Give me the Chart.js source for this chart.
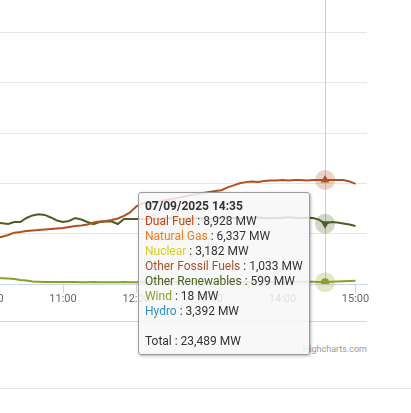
<!DOCTYPE html>
<html>
<head>
<meta charset="utf-8">
<script src="https://cdn.jsdelivr.net/npm/chart.js@4.4.0/dist/chart.umd.min.js"></script>
<style>
  html, body { margin: 0; padding: 0; background: #fff; }
  body { position: relative; width: 411px; height: 413px; overflow: hidden; font-family: Roboto, sans-serif; }
  #chartBox { position: absolute; left: -60px; top: -40px; }
  .rule { position: absolute; left: 0; height: 1px; }
  #credits { position: absolute; right: 44px; top: 344px; font-size: 9px; line-height: 11px; color: #999; }
  #tip {
    position: absolute; display: none; box-sizing: border-box; width: 172px;
    background: rgba(247, 247, 247, 0.85); border: 1px solid #9a9a9a; border-radius: 3px;
    box-shadow: 1px 1px 3px rgba(0, 0, 0, 0.3);
    padding: 6px 8px 5px 6px; font-size: 12px; line-height: 15px; color: #333; white-space: nowrap;
  }
  #tip .head { font-weight: bold; }
</style>
</head>
<body>
<div class="rule" style="top:321px;width:367px;background:#ccd6eb"></div>
<div class="rule" style="top:388px;width:411px;background:#e6e6e6"></div>
<div id="credits">Highcharts.com</div>
<div id="chartBox"><canvas id="genChart" width="447" height="364"></canvas></div>
<div id="tip"></div>

<script>
const timeLabels = [
  '10:05', '10:10', '10:15', '10:20', '10:25', '10:30', '10:35', '10:40', '10:45', '10:50', '10:55',
  '11:00', '11:05', '11:10', '11:15', '11:20', '11:25', '11:30', '11:35', '11:40', '11:45', '11:50', '11:55',
  '12:00', '12:05', '12:10', '12:15', '12:20', '12:25', '12:30', '12:35', '12:40', '12:45', '12:50', '12:55',
  '13:00', '13:05', '13:10', '13:15', '13:20', '13:25', '13:30', '13:35', '13:40', '13:45', '13:50', '13:55',
  '14:00', '14:05', '14:10', '14:15', '14:20', '14:25', '14:30', '14:35', '14:40', '14:45', '14:50', '14:55',
  '15:00'
];

const otherFossil = [
  457, 470, 487, 510, 517, 527, 532, 537, 542, 547, 552,
  557, 567, 577, 582, 591, 611, 621, 626, 636, 651, 676, 711,
  770, 800, 805, 810, 822, 834, 846, 858, 870, 884, 895, 905,
  915, 924, 932, 960, 980, 1000, 1012, 1018, 1014, 1024, 1029, 1029,
  1034, 1029, 1034, 1034, 1029, 1034, 1034, 1033, 1034, 1034, 1034, 1019,
  994
];

const otherRenewables = [
  611, 603, 596, 616, 616, 656, 681, 693, 686, 661, 631,
  616, 626, 656, 641, 616, 593, 616, 621, 621, 596, 646, 646,
  646, 646, 648, 650, 646, 652, 655, 650, 647, 651, 656, 653,
  649, 652, 657, 660, 655, 651, 654, 658, 661, 656, 652, 655,
  659, 662, 658, 655, 657, 656, 640, 599, 615, 611, 601, 591,
  576
];

const wind = [
  60, 57, 55, 50, 40, 35, 25, 23, 21, 20, 20,
  20, 19, 19, 18, 18, 19, 18, 17, 18, 18, 19, 18,
  18, 18, 19, 19, 18, 18, 19, 19, 20, 19, 19, 20, 20,
  19, 19, 18, 18, 19, 20, 21, 21, 21, 20, 20,
  21, 22, 22, 22, 23, 23, 21, 18, 22, 25, 28, 31,
  33
];

const hourTicks = [0, 60, 120, 180, 240, 300];
const hourLabels = ['10:00', '11:00', '12:00', '13:00', '14:00', '15:00'];

const tipDate = '07/09/2025';
const tipTime = '14:35';
const tipNames = ['Dual Fuel', 'Natural Gas', 'Nuclear', 'Other Fossil Fuels', 'Other Renewables', 'Wind', 'Hydro'];
const tipValues = [8928, 6337, 3182, 1033, 599, 18, 3392];
const tipColors = ['#c1440e', '#ee7d1f', '#d6d21f', '#a8532b', '#4c5e24', '#8c9f26', '#2d8fca'];

// page offset of the canvas box (the chart is cropped on the left and top)
const BOX_LEFT = -60;
const TIP_TOP = 192;

const toMinutes = s => {
  const [h, m] = s.split(':').map(Number);
  return (h - 10) * 60 + m;
};
const activeIndex = timeLabels.indexOf(tipTime);
const points = arr => arr.map((v, i) => ({ x: toMinutes(timeLabels[i]), y: v }));

function makeSeries(label, values, color, style, rotation, radius) {
  return {
    label: label,
    data: points(values),
    borderColor: color,
    backgroundColor: color,
    borderWidth: 2,
    tension: 0,
    pointStyle: style,
    rotation: rotation,
    pointBorderWidth: 0,
    pointRadius: ctx => ctx.dataIndex === activeIndex ? radius : 0,
    pointHoverRadius: ctx => ctx.dataIndex === activeIndex ? radius : 0,
    haloColor: color
  };
}

const hexAlpha = (hex, a) => {
  const n = parseInt(hex.slice(1), 16);
  return `rgba(${n >> 16}, ${(n >> 8) & 255}, ${n & 255}, ${a})`;
};

const crosshair = {
  id: 'crosshair',
  beforeDatasetsDraw(chart) {
    const { ctx, chartArea, scales } = chart;
    const x = Math.round(scales.x.getPixelForValue(toMinutes(tipTime))) + 0.5;
    ctx.save();
    ctx.strokeStyle = '#cccccc';
    ctx.lineWidth = 1;
    ctx.beginPath();
    ctx.moveTo(x, chartArea.top);
    ctx.lineTo(x, chartArea.bottom);
    ctx.stroke();
    chart.data.datasets.forEach((ds, i) => {
      const pt = chart.getDatasetMeta(i).data[activeIndex];
      ctx.fillStyle = hexAlpha(ds.haloColor, 0.25);
      ctx.beginPath();
      ctx.arc(pt.x, pt.y, 10, 0, Math.PI * 2);
      ctx.fill();
    });
    ctx.restore();
  }
};

function renderTip({ chart, tooltip }) {
  const tip = document.getElementById('tip');
  if (!tooltip.dataPoints || !tooltip.dataPoints.length) {
    tip.style.display = 'none';
    return;
  }
  const idx = tooltip.dataPoints[0].dataIndex;
  let html = `<div class="head">${tipDate} ${timeLabels[idx]}</div>`;
  tipNames.forEach((name, i) => {
    html += `<div><span style="color:${tipColors[i]}">${name}</span> : ${tipValues[i].toLocaleString('en-US')} MW</div>`;
  });
  const total = tipValues.reduce((a, b) => a + b, 0);
  html += `<div>&nbsp;</div><div>Total : ${total.toLocaleString('en-US')} MW</div>`;
  tip.innerHTML = html;
  tip.style.display = 'block';
  const caretX = chart.getDatasetMeta(0).data[idx].x;
  tip.style.left = (BOX_LEFT + caretX - 15 - 172) + 'px';
  tip.style.top = TIP_TOP + 'px';
}

const chart = new Chart(document.getElementById('genChart'), {
  type: 'line',
  data: {
    datasets: [
      makeSeries('Other Fossil Fuels', otherFossil, '#b0521f', 'triangle', 0, 5),
      makeSeries('Other Renewables', otherRenewables, '#4c5e24', 'triangle', 180, 5),
      makeSeries('Wind', wind, '#8c9f26', 'circle', 0, 4)
    ]
  },
  options: {
    responsive: false,
    animation: false,
    events: [],
    layout: { padding: { top: 22, right: 20, left: 0, bottom: 0 } },
    interaction: { mode: 'index', intersect: false },
    plugins: {
      legend: { display: false },
      tooltip: { enabled: false, animation: false, external: renderTip }
    },
    scales: {
      x: {
        type: 'linear',
        min: -40.1,
        max: 309.4,
        afterBuildTicks: axis => { axis.ticks = hourTicks.map(v => ({ value: v })); },
        afterFit: axis => { axis.height = 40; axis.paddingLeft = 0; axis.paddingRight = 0; },
        ticks: {
          autoSkip: false,
          maxRotation: 0,
          padding: 0,
          color: '#666',
          font: { family: 'Roboto', size: 11 },
          callback: v => hourLabels[hourTicks.indexOf(v)]
        },
        grid: { drawOnChartArea: false, drawTicks: true, tickLength: 9, color: '#ccd6eb' },
        border: { display: true, color: '#ccd6eb', width: 1 }
      },
      y: {
        min: 0,
        max: 3000,
        afterFit: axis => { axis.width = 0; },
        ticks: { display: false, stepSize: 500 },
        grid: {
          drawTicks: false,
          color: ctx => ctx.tick && ctx.tick.value === 0 ? 'rgba(0,0,0,0)' : '#e6e6e6'
        },
        border: { display: false }
      }
    }
  },
  plugins: [crosshair]
});

const active = chart.data.datasets.map((ds, i) => ({ datasetIndex: i, index: activeIndex }));
const pt = chart.getDatasetMeta(0).data[activeIndex];
chart.tooltip.setActiveElements(active, { x: pt.x, y: pt.y });
chart.update();
</script>
</body>
</html>
